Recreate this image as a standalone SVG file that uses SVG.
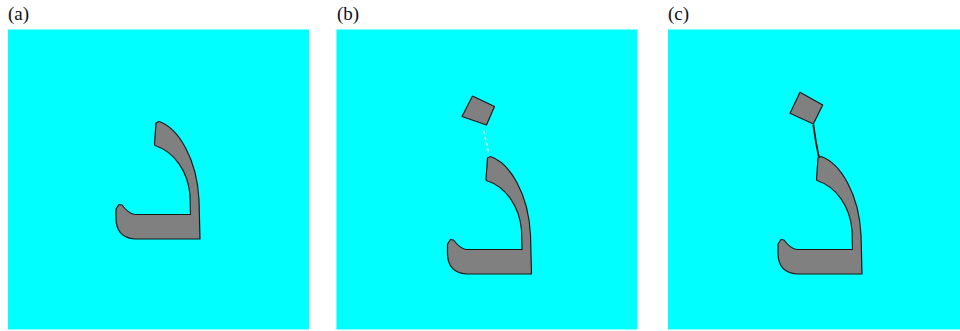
<svg xmlns="http://www.w3.org/2000/svg" width="960" height="331" viewBox="0 0 960 331">
<style>
.panel{fill:#00ffff}
.lbl{font-family:"Liberation Serif","DejaVu Serif","Times New Roman",serif;font-size:19px;fill:#111}
.ink{fill:#808080;stroke:#1a1a1a;stroke-width:1.2;stroke-linejoin:round}
</style>
<defs>
<path id="dal" class="ink" d="M156,123 L159,121.5 C178,128 197,158 199,200 L200,239 L135,239 C122,238 116,230 116,218 L116,209 L119,204.5 L122,205 C125,209 129,214 135,214.5 L190.5,214.5 L190,195 C188,172 175,152 155,145.5 L154.5,144 Z"/>
</defs>
<rect width="960" height="331" fill="#ffffff"/>
<g id="panel-a">
<text class="lbl" font-family="Liberation Serif, serif" x="8" y="20">(a)</text>
<rect class="panel" x="8" y="29.5" width="301" height="300"/>
<use href="#dal"/>
</g>
<g id="panel-b">
<text class="lbl" font-family="Liberation Serif, serif" x="337" y="20">(b)</text>
<rect class="panel" x="336.5" y="29.5" width="301" height="300"/>
<use href="#dal" transform="translate(331.5,35)"/>
<path class="ink" d="M472.5,96 L494.5,106.5 L486.5,125 L462,116.5 Z"/>
<line x1="484" y1="131" x2="488.5" y2="153" stroke="#c8ffff" stroke-width="1.5" stroke-dasharray="3,3"/>
</g>
<g id="panel-c">
<text class="lbl" font-family="Liberation Serif, serif" x="668" y="20">(c)</text>
<rect class="panel" x="668" y="29.5" width="292" height="300"/>
<use href="#dal" transform="translate(662,35)"/>
<path class="ink" d="M800,92.3 L822.7,105 L813.3,124 L790,113.3 Z"/>
<path d="M813.3,124.5 C815,135 815.5,140 816.5,145 C817.5,150 818,153 819,157" fill="none" stroke="#111" stroke-width="1.8"/>
</g>
</svg>
